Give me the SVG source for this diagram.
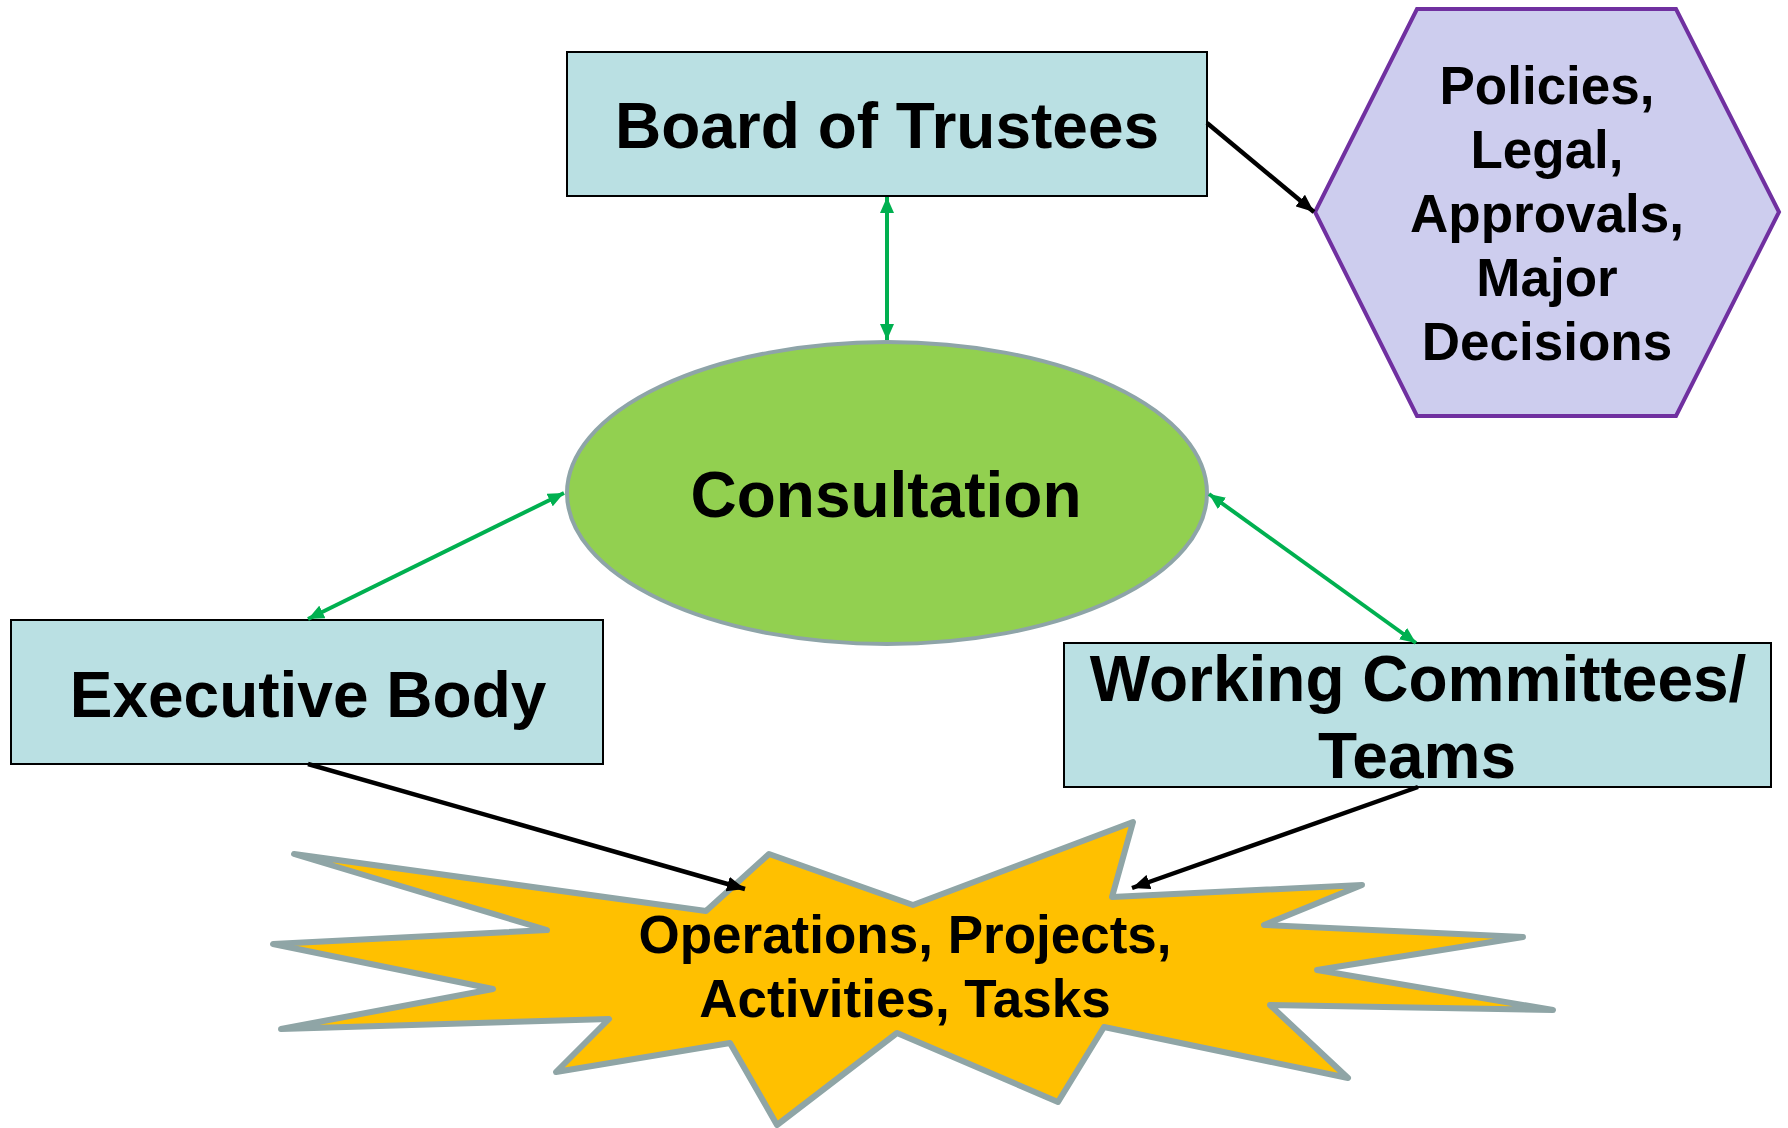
<svg xmlns="http://www.w3.org/2000/svg" width="1788" height="1128" viewBox="0 0 1788 1128">
<style>
.box{fill:#BAE0E3;stroke:#000;stroke-width:2}
.lbl{font-family:"Liberation Sans",Arial,sans-serif;font-weight:bold;fill:#000;text-anchor:middle}
.big{font-size:64px}
.mid{font-size:53px}
.g{stroke:#00B050;stroke-width:4;fill:none}
.k{stroke:#000;stroke-width:4.5;fill:none}
</style>
<defs>
<marker id="ga" markerUnits="userSpaceOnUse" markerWidth="17" markerHeight="14" refX="16" refY="7" orient="auto-start-reverse">
<path d="M0,0 L16,7 L0,14 z" fill="#00B050"/>
</marker>
<marker id="ka" markerUnits="userSpaceOnUse" markerWidth="19" markerHeight="15" refX="18" refY="7.5" orient="auto">
<path d="M0,0 L18,7.5 L0,15 z" fill="#000"/>
</marker>
</defs>
<rect width="1788" height="1128" fill="#fff"/>
<g id="operations">
<polygon points="294,854 706,911 769,854 913,905 1133,822 1112,897 1362,885 1264,925 1523,937 1317,970 1553,1010 1270,1005 1348,1078 1104,1027 1058,1102 897,1033 777,1125 730,1043 556,1072 609,1019 281,1029 493,989 273,944 547,930" fill="#FFC000" stroke="#8FA5A6" stroke-width="6" stroke-linejoin="round"/>
<text class="lbl mid" x="905" y="953">Operations, Projects,</text>
<text class="lbl mid" x="905" y="1017">Activities, Tasks</text>
</g>
<g id="board">
<rect class="box" x="567" y="52" width="640" height="144"/>
<text class="lbl big" x="887" y="148">Board of Trustees</text>
</g>
<g id="policies">
<polygon points="1417,9 1676,9 1779,212 1676,416 1417,416 1315,212" fill="#CDCDEE" stroke="#7030A0" stroke-width="4"/>
<text class="lbl mid" x="1547" y="104">Policies,</text>
<text class="lbl mid" x="1547" y="168">Legal,</text>
<text class="lbl mid" x="1547" y="232">Approvals,</text>
<text class="lbl mid" x="1547" y="296">Major</text>
<text class="lbl mid" x="1547" y="360">Decisions</text>
</g>
<g id="consultation">
<ellipse cx="887" cy="493" rx="320" ry="151" fill="#92D050" stroke="#8EA4A8" stroke-width="4"/>
<text class="lbl big" x="886" y="517">Consultation</text>
</g>
<g id="executive">
<rect class="box" x="11" y="620" width="592" height="144"/>
<text class="lbl big" x="308" y="717">Executive Body</text>
</g>
<g id="committees">
<rect class="box" x="1064" y="643" width="707" height="144"/>
<text class="lbl big" x="1418" y="701">Working Committees/</text>
<text class="lbl big" x="1417" y="778">Teams</text>
</g>
<g id="connectors">
<line class="g" x1="887" y1="197" x2="887" y2="340" marker-start="url(#ga)" marker-end="url(#ga)"/>
<line class="g" x1="564" y1="493" x2="308" y2="619" marker-start="url(#ga)" marker-end="url(#ga)"/>
<line class="g" x1="1209" y1="494" x2="1416" y2="643" marker-start="url(#ga)" marker-end="url(#ga)"/>
<line class="k" x1="1207" y1="123" x2="1314" y2="212" marker-end="url(#ka)"/>
<line class="k" x1="308" y1="764" x2="745" y2="889" marker-end="url(#ka)"/>
<line class="k" x1="1418" y1="787" x2="1132" y2="888" marker-end="url(#ka)"/>
</g>
</svg>
